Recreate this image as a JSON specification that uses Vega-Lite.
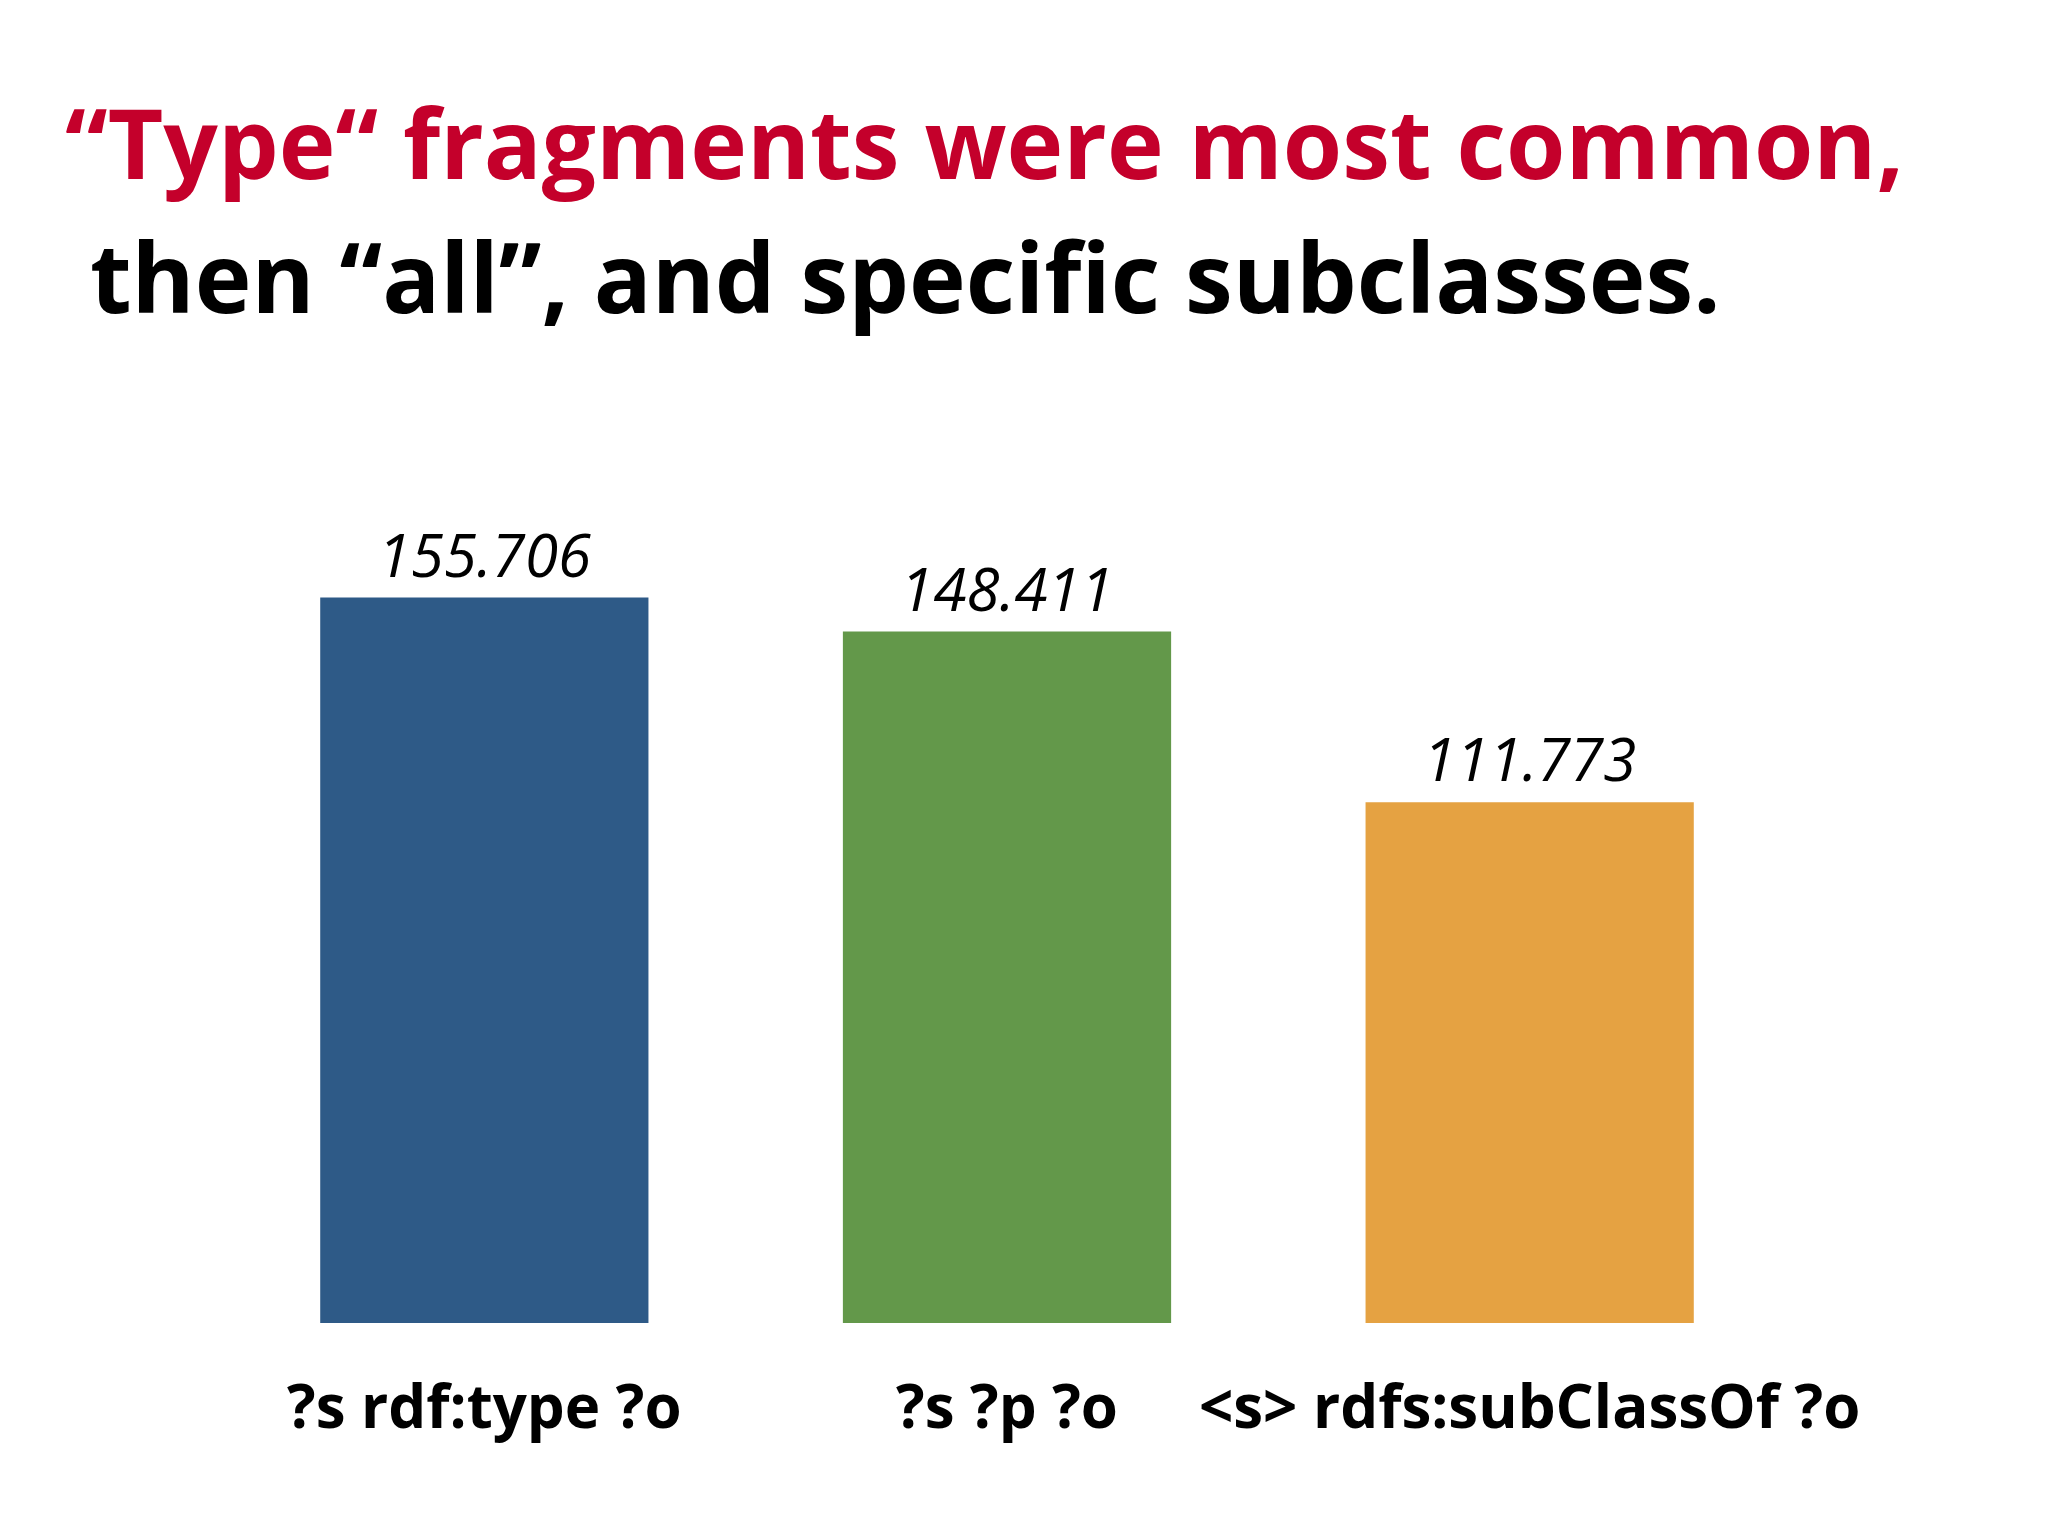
{
  "$schema": "https://vega.github.io/schema/vega-lite/v6.json",
  "width": 1568,
  "height": 792,
  "autosize": {"type": "none"},
  "padding": {"left": 223, "top": 531, "right": 257, "bottom": 213},
  "background": "white",
  "title": {
    "text": "“Type“ fragments were most common,",
    "subtitle": "\u200b\u00a0then “all”, and specific subclasses.",
    "anchor": "start",
    "frame": "group",
    "dx": -158,
    "offset": 196,
    "font": "Open Sans",
    "fontSize": 96,
    "fontWeight": "bold",
    "color": "#C4002B",
    "subtitleFont": "Open Sans",
    "subtitleFontSize": 96,
    "subtitleFontWeight": "bold",
    "subtitleColor": "#000000",
    "subtitlePadding": 38
  },
  "data": {
    "values": [
      {"fragment": "?s rdf:type ?o", "count": 155.706},
      {"fragment": "?s ?p ?o", "count": 148.411},
      {"fragment": "<s> rdfs:subClassOf ?o", "count": 111.773}
    ]
  },
  "encoding": {
    "x": {
      "field": "fragment",
      "type": "nominal",
      "sort": null,
      "title": null,
      "scale": {"paddingInner": 0.372, "paddingOuter": 0.186},
      "axis": {
        "domain": false,
        "ticks": false,
        "tickSize": 0,
        "grid": false,
        "labelAngle": 0,
        "labelFont": "Open Sans",
        "labelFontSize": 60,
        "labelFontWeight": "bold",
        "labelColor": "#000000",
        "labelBaseline": "alphabetic",
        "labelPadding": 104,
        "labelLimit": 0,
        "labelOverlap": false
      }
    },
    "y": {
      "field": "count",
      "type": "quantitative",
      "scale": {"domain": [0, 170]},
      "axis": null
    }
  },
  "layer": [
    {
      "mark": {"type": "bar"},
      "encoding": {
        "color": {
          "field": "fragment",
          "type": "nominal",
          "sort": null,
          "scale": {"range": ["#2E5A87", "#63984A", "#E5A242"]},
          "legend": null
        }
      }
    },
    {
      "mark": {
        "type": "text",
        "font": "Open Sans",
        "fontSize": 60,
        "fontStyle": "italic",
        "baseline": "alphabetic",
        "dy": -21,
        "color": "#000000"
      },
      "encoding": {
        "text": {"field": "count", "type": "quantitative", "format": ".3f"}
      }
    }
  ],
  "config": {
    "view": {"stroke": null}
  }
}
